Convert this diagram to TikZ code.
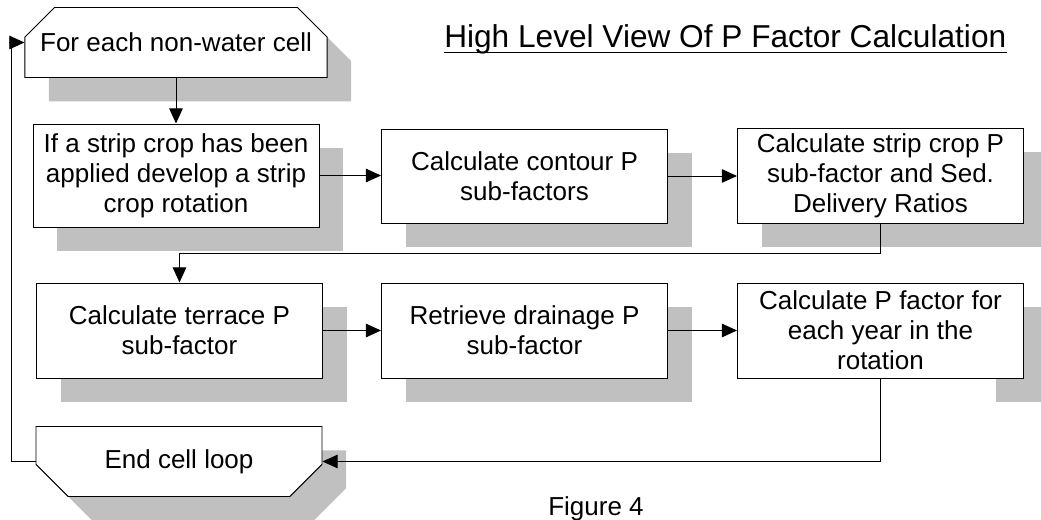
\documentclass[tikz,border=0pt]{standalone}
\usepackage{fontspec}
\setmainfont{Liberation Sans}
\usepackage{xcolor}
\usepackage{tikz}
\usetikzlibrary{shapes.misc, arrows.meta, positioning, shadows, backgrounds}
\definecolor{shadowgray}{RGB}{192,192,192}

\begin{document}
\begin{tikzpicture}[
    plain/.style={draw, fill=white, line width=0.7pt, minimum width=7.15cm, minimum height=2.375cm, align=center, inner sep=2pt, font=\fontsize{18.5}{21.3}\selectfont},
    box/.style={plain, drop shadow={shadow xshift=0.6cm, shadow yshift=-0.6cm, fill=shadowgray, opacity=1}},
    loopbox/.style={box, chamfered rectangle, chamfered rectangle sep=0.43cm, minimum height=1.75cm},
    flow/.style={-{Triangle[length=3.8mm, width=3.4mm]}, line width=0.7pt}
]
    \useasboundingbox (0,0) rectangle (26.025,-13);

    % Title
    \node[font=\fontsize{22.5}{27}\selectfont, anchor=base west, inner sep=0pt] (title) at (11.1,-1.2) {High Level View Of P Factor Calculation};
    \draw[line width=0.7pt] ([yshift=-0.1cm]title.base west) -- ([yshift=-0.1cm]title.base east);

    % Loop start
    \node[loopbox, chamfered rectangle corners={north west, north east}] (cellstart) at (4.4,-1.0625) {For each non-water cell};

    % First row
    \node[box, minimum height=2.575cm] (stripcrop) at (4.4,-4.3875) {If a strip crop has been\\applied develop a strip\\crop rotation};
    \node[box, minimum height=2.35cm] (contour) at (13.1125,-4.4) {Calculate contour P\\sub-factors};
    \node[box] (stripfactor) at (22.0125,-4.3875) {Calculate strip crop P\\sub-factor and Sed.\\Delivery Ratios};

    % Second row
    \node[box] (terrace) at (4.4875,-8.2625) {Calculate terrace P\\sub-factor};
    \node[box] (drainage) at (13.1125,-8.2625) {Retrieve drainage P\\sub-factor};
    \node[plain] (pfactor) at (22.0125,-8.2625) {Calculate P factor for\\each year in the\\rotation};
    \begin{scope}[on background layer]
        \fill[shadowgray] ([xshift=-0.7cm, yshift=-0.6cm]pfactor.north east) rectangle ([xshift=0.6cm, yshift=-0.6cm]pfactor.south east);
    \end{scope}

    % Loop end
    \node[loopbox, chamfered rectangle corners={south west, south east}] (endloop) at (4.475,-11.5375) {End cell loop};

    % Flow
    \draw[flow] (cellstart.south) -- (stripcrop.north);
    \draw[flow] (stripcrop.east) -- (stripcrop.east -| contour.west);
    \draw[flow] (contour.east) -- (contour.east -| stripfactor.west);
    \draw[flow] (stripfactor.south) -- ++(0,-0.75) -| (terrace.north);
    \draw[flow] (terrace.east) -- (drainage.west);
    \draw[flow] (drainage.east) -- (pfactor.west);
    \draw[flow] (pfactor.south) |- (endloop.east);
    \draw[flow] (endloop.west) -- ++(-0.6,0) |- (cellstart.west);

    \node[font=\fontsize{18.5}{21.3}\selectfont, anchor=base] (figlabel) at (14.9,-12.9) {Figure 4};
\end{tikzpicture}
\end{document}
